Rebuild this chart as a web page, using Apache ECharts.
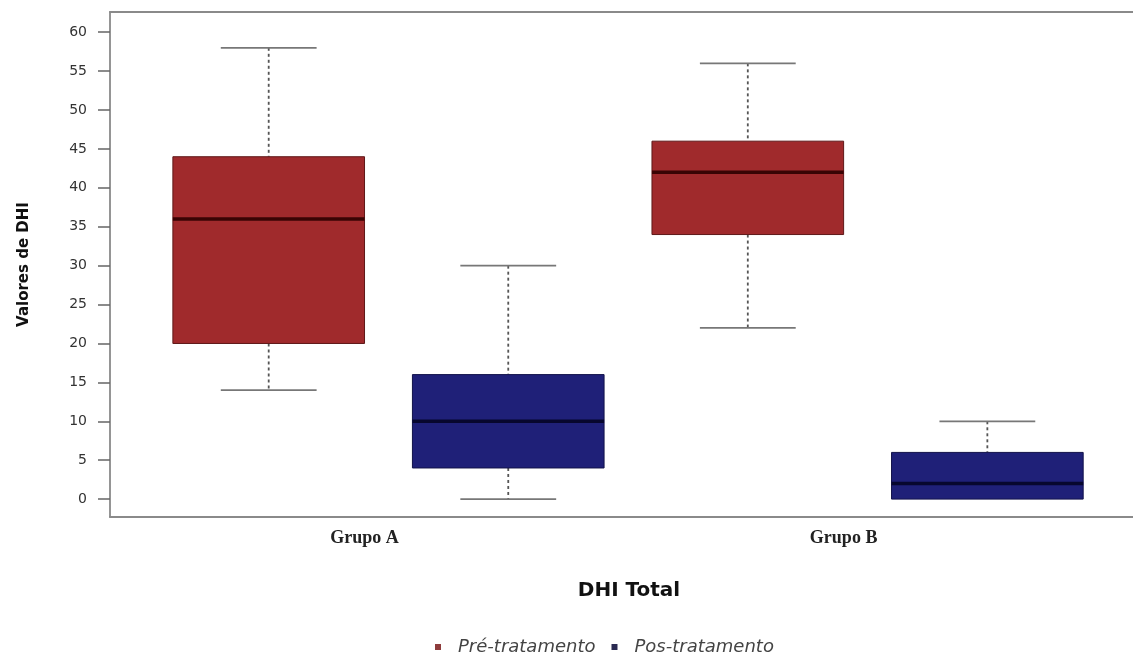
<!DOCTYPE html>
<html>
<head>
<meta charset="utf-8">
<script src="https://cdn.jsdelivr.net/npm/echarts@6/dist/echarts.min.js"></script>
<style>html,body{margin:0;padding:0;background:#fff;}#c{width:1133px;height:655px;}</style>
</head>
<body>
<div id="c"></div>
<script>
// ---- data ----
const groups = ['Grupo A', 'Grupo B'];
const seriesNames = ['Pré-tratamento', 'Pos-tratamento'];
// [min, Q1, median, Q3, max] per group
const preTratamento = [
  [14, 20, 36, 44, 58],
  [22, 34, 42, 46, 56]
];
const posTratamento = [
  [0, 4, 10, 16, 30],
  [0, 0, 2, 6, 10]
];
const yTicks = [0, 5, 10, 15, 20, 25, 30, 35, 40, 45, 50, 55, 60];

const colors = ['#a02a2c', '#1f2078'];
const legendColors = ['#8e3c3c', '#2a2a52'];
const borders = ['#5e1818', '#12124a'];
const medians = ['#3a0404', '#07072e'];
const frameLine = { show: true, lineStyle: { color: '#8a8a8a', width: 1.8 } };

function toItems(stats, slot) {
  return stats.map((s, gi) => [gi * 2 + 1 + slot].concat(s));
}

function makeRender(si) {
  return function (params, api) {
    const x = api.value(0);
    const lo = api.coord([x, api.value(1)]);
    const q1 = api.coord([x, api.value(2)]);
    const md = api.coord([x, api.value(3)]);
    const q3 = api.coord([x, api.value(4)]);
    const hi = api.coord([x, api.value(5)]);
    const unit = api.size([1, 0])[0];
    const bw = unit * 0.8;
    const cw = bw * 0.5;
    const cx = lo[0];
    const children = [];
    const wStyle = { stroke: '#555', lineWidth: 1.8, lineDash: [3, 3] };
    const cStyle = { stroke: '#777', lineWidth: 1.8 };
    if (hi[1] < q3[1]) {
      children.push({ type: 'line', shape: { x1: cx, y1: hi[1], x2: cx, y2: q3[1] }, style: wStyle });
    }
    children.push({ type: 'line', shape: { x1: cx - cw / 2, y1: hi[1], x2: cx + cw / 2, y2: hi[1] }, style: cStyle });
    if (lo[1] > q1[1]) {
      children.push({ type: 'line', shape: { x1: cx, y1: q1[1], x2: cx, y2: lo[1] }, style: wStyle });
      children.push({ type: 'line', shape: { x1: cx - cw / 2, y1: lo[1], x2: cx + cw / 2, y2: lo[1] }, style: cStyle });
    }
    children.push({
      type: 'rect',
      shape: { x: cx - bw / 2, y: q3[1], width: bw, height: q1[1] - q3[1] },
      style: { fill: colors[si], stroke: borders[si], lineWidth: 1 }
    });
    children.push({ type: 'line', shape: { x1: cx - bw / 2, y1: md[1], x2: cx + bw / 2, y2: md[1] }, style: { stroke: medians[si], lineWidth: 3.5 } });
    return { type: 'group', children: children };
  };
}

const chart = echarts.init(document.getElementById('c'), null, { renderer: 'canvas' });
chart.setOption({
  animation: false,
  backgroundColor: '#ffffff',
  grid: { show: false, left: 110, top: 12, right: 0, bottom: 138 },
  xAxis: [{
    type: 'value', min: 0.3375, max: 4.608, position: 'bottom',
    axisLine: Object.assign({ onZero: false }, frameLine), axisTick: { show: false }, splitLine: { show: false },
    axisLabel: {
      customValues: groups.map((g, i) => i * 2 + 1.4),
      formatter: v => groups[Math.round((v - 1.4) / 2)],
      margin: 12,
      fontFamily: 'Liberation Serif', fontWeight: 'bold', fontSize: 18, color: '#222'
    }
  }, {
    type: 'value', min: 0.3375, max: 4.608, position: 'top',
    axisLine: Object.assign({ onZero: false }, frameLine), axisTick: { show: false },
    splitLine: { show: false }, axisLabel: { show: false }
  }],
  yAxis: {
    type: 'value', min: -2.3, max: 62.6,
    name: 'Valores de DHI', nameLocation: 'middle', nameGap: 78,
    nameTextStyle: { fontFamily: 'DejaVu Sans', fontWeight: 'bold', fontSize: 15, color: '#111' },
    axisLine: Object.assign({ onZero: false }, frameLine),
    splitLine: { show: false },
    axisTick: { show: true, customValues: yTicks, length: 12, lineStyle: { color: '#666', width: 1.5 } },
    axisLabel: {
      customValues: yTicks, margin: 23,
      fontFamily: 'DejaVu Sans', fontSize: 14, color: '#333'
    }
  },
  legend: {
    top: 633, left: 430, itemWidth: 6, itemHeight: 6, itemGap: 16, icon: 'rect',
    textStyle: { fontFamily: 'DejaVu Sans', fontStyle: 'italic', fontSize: 18, color: '#444', padding: [0, 0, 0, 12] },
    data: [
      { name: seriesNames[0], itemStyle: { color: legendColors[0] } },
      { name: seriesNames[1], itemStyle: { color: legendColors[1] } }
    ]
  },
  graphic: [{
    type: 'text', x: 629, y: 591,
    style: { text: 'DHI Total', fontFamily: 'DejaVu Sans', fontWeight: 'bold', fontSize: 20, fill: '#111', align: 'center', verticalAlign: 'middle' }
  }],
  series: [
    {
      name: seriesNames[0], type: 'custom', renderItem: makeRender(0),
      itemStyle: { color: colors[0] },
      encode: { x: 0, y: [1, 2, 3, 4, 5] },
      data: toItems(preTratamento, 0)
    },
    {
      name: seriesNames[1], type: 'custom', renderItem: makeRender(1),
      itemStyle: { color: colors[1] },
      encode: { x: 0, y: [1, 2, 3, 4, 5] },
      data: toItems(posTratamento, 1)
    }
  ]
});
</script>
</body>
</html>
